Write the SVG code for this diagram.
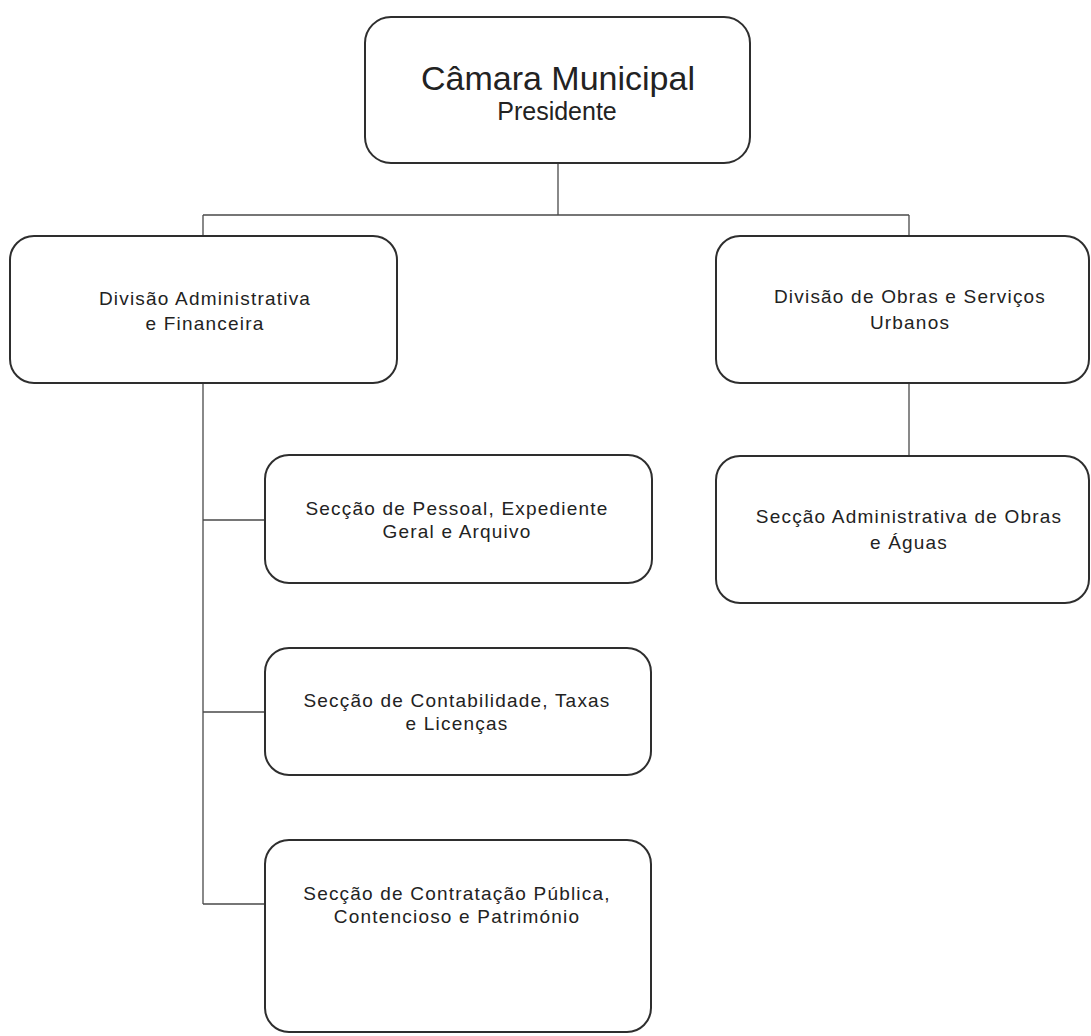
<svg xmlns="http://www.w3.org/2000/svg" width="1091" height="1036" viewBox="0 0 1091 1036">
<style>
.box{fill:#ffffff;stroke:#2e2e2e;stroke-width:2}
.conn{fill:none;stroke:#4a4a4a;stroke-width:1.3}
.t{font-family:"Liberation Sans",Arial,sans-serif;font-size:19px;letter-spacing:1.2px;fill:#222;text-anchor:middle}
.title{font-family:"Liberation Sans",Arial,sans-serif;font-size:34px;fill:#222;text-anchor:middle}
.sub{font-family:"Liberation Sans",Arial,sans-serif;font-size:25px;fill:#222;text-anchor:middle}
</style>
<rect x="0" y="0" width="1091" height="1036" fill="#ffffff"/>
<g id="connectors">
<path class="conn" d="M558 163V215M203 215H909M203 215V236M909 215V236"/>
<path class="conn" d="M909 383V456"/>
<path class="conn" d="M203 383V904M203 520H265M203 712H265M203 904H265"/>
</g>
<g id="camara">
<rect class="box" x="365" y="17" width="385" height="146" rx="26"/>
<text class="title" x="558" y="90">Câmara Municipal</text>
<text class="sub" x="557" y="120">Presidente</text>
</g>
<g id="div-adm">
<rect class="box" x="10" y="236" width="387" height="147" rx="24"/>
<text class="t" x="205" y="305">Divisão Administrativa</text>
<text class="t" x="205" y="330">e Financeira</text>
</g>
<g id="div-obras">
<rect class="box" x="716" y="236" width="373" height="147" rx="24"/>
<text class="t" x="910" y="303">Divisão de Obras e Serviços</text>
<text class="t" x="910" y="329">Urbanos</text>
</g>
<g id="sec-obras">
<rect class="box" x="716" y="456" width="373" height="147" rx="24"/>
<text class="t" x="909" y="523">Secção Administrativa de Obras</text>
<text class="t" x="909" y="549">e Águas</text>
</g>
<g id="sec-pessoal">
<rect class="box" x="265" y="455" width="387" height="128" rx="24"/>
<text class="t" x="457" y="515">Secção de Pessoal, Expediente</text>
<text class="t" x="457" y="538">Geral e Arquivo</text>
</g>
<g id="sec-contab">
<rect class="box" x="265" y="648" width="386" height="127" rx="24"/>
<text class="t" x="457" y="707">Secção de Contabilidade, Taxas</text>
<text class="t" x="457" y="730">e Licenças</text>
</g>
<g id="sec-contrat">
<rect class="box" x="265" y="840" width="386" height="192" rx="24"/>
<text class="t" x="457" y="900">Secção de Contratação Pública,</text>
<text class="t" x="457" y="923">Contencioso e Património</text>
</g>
</svg>
